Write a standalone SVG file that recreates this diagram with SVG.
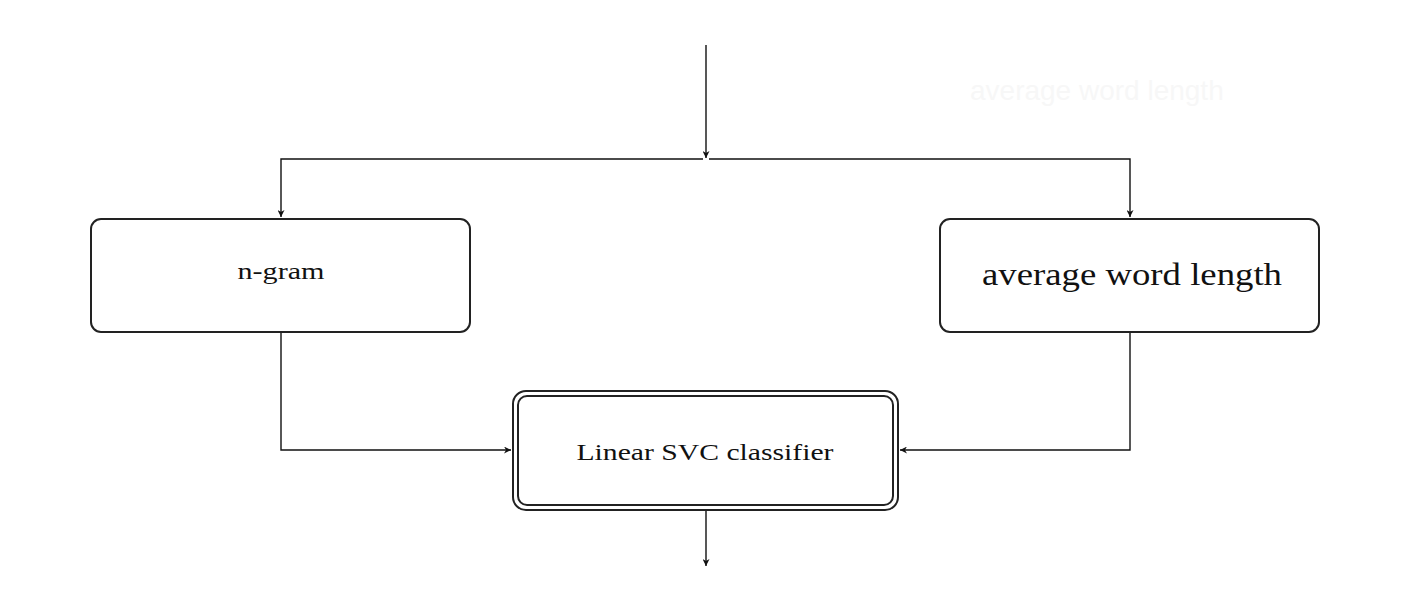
<svg xmlns="http://www.w3.org/2000/svg" width="1410" height="606" viewBox="0 0 1410 606">
<style>
.box{fill:#fff;stroke:#222;stroke-width:2}
.conn{fill:none;stroke:#111;stroke-width:1.4}
.lbl{font-family:"Liberation Serif","DejaVu Serif",serif;fill:#111;text-anchor:middle}
.ghost{font-family:"Liberation Sans",Arial,sans-serif;font-size:28px;fill:#f7f7f7}
</style>
<defs>
<marker id="arr" viewBox="0 0 10 10" refX="10" refY="5" markerWidth="7" markerHeight="7" markerUnits="userSpaceOnUse" orient="auto">
<path d="M0,0 L10,5 L0,10 L3,5 Z" fill="#111"/>
</marker>
</defs>
<rect width="1410" height="606" fill="#fff"/>
<text class="ghost" x="970" y="100">average word length</text>
<g id="connectors">
<line class="conn" x1="706" y1="45" x2="706" y2="158" marker-end="url(#arr)"/>
<polyline class="conn" points="703,159 281,159 281,217" marker-end="url(#arr)"/>
<polyline class="conn" points="709,159 1130,159 1130,217" marker-end="url(#arr)"/>
<polyline class="conn" points="281,333 281,450 511,450" marker-end="url(#arr)"/>
<polyline class="conn" points="1130,333 1130,450 900,450" marker-end="url(#arr)"/>
<line class="conn" x1="706" y1="511" x2="706" y2="566" marker-end="url(#arr)"/>
</g>
<g id="ngram">
<rect class="box" x="91" y="219" width="379" height="113" rx="10"/>
<text class="lbl" x="281" y="279" font-size="24" textLength="87" lengthAdjust="spacingAndGlyphs">n-gram</text>
</g>
<g id="avgwordlength">
<rect class="box" x="940" y="219" width="379" height="113" rx="10"/>
<text class="lbl" x="1132" y="285" font-size="31" textLength="300" lengthAdjust="spacingAndGlyphs">average word length</text>
</g>
<g id="classifier">
<rect class="box" x="513" y="391" width="385" height="119" rx="13"/>
<rect class="box" x="518" y="396" width="375" height="109" rx="9"/>
<text class="lbl" x="705" y="460" font-size="24" textLength="257" lengthAdjust="spacingAndGlyphs">Linear SVC classifier</text>
</g>
</svg>
